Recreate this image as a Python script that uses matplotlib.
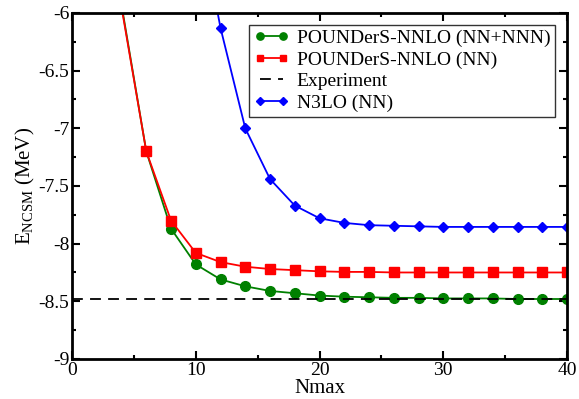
import matplotlib
matplotlib.use("Agg")
import matplotlib.pyplot as plt
from matplotlib.ticker import MultipleLocator

plt.rcParams['font.family'] = ['Liberation Serif', 'DejaVu Serif']
plt.rcParams['mathtext.fontset'] = 'custom'
plt.rcParams['mathtext.rm'] = 'Liberation Serif'

# data
nmax_nn = [4, 6, 8, 10, 12, 14, 16, 18, 20, 22, 24, 26, 28, 30, 32, 34, 36, 38, 40]
e_nnnnn = [-5.93, -7.20, -7.87, -8.18, -8.31, -8.37, -8.41, -8.43, -8.45, -8.46,
           -8.465, -8.47, -8.47, -8.475, -8.475, -8.475, -8.48, -8.48, -8.48]
e_nn = [-5.95, -7.20, -7.80, -8.08, -8.16, -8.20, -8.22, -8.23, -8.24, -8.245,
        -8.245, -8.25, -8.25, -8.25, -8.25, -8.25, -8.25, -8.25, -8.25]
nmax_n3lo = [10, 12, 14, 16, 18, 20, 22, 24, 26, 28, 30, 32, 34, 36, 38, 40]
e_n3lo = [-5.0, -6.13, -7.00, -7.44, -7.67, -7.78, -7.82, -7.84, -7.845, -7.85,
          -7.855, -7.855, -7.855, -7.855, -7.855, -7.855]
e_exp = -8.482

fig = plt.figure(figsize=(5.79, 3.99), dpi=100)
ax = fig.add_axes([0.1244, 0.1003, 0.8549, 0.8672])

ax.plot(nmax_nn, e_nnnnn, color='green', marker='o', ms=7, lw=1.3,
        label='POUNDerS-NNLO (NN+NNN)')
ax.plot(nmax_nn, e_nn, color='red', marker='s', ms=6.5, lw=1.3,
        label='POUNDerS-NNLO (NN)')
ax.axhline(e_exp, color='black', ls=(0, (6, 4)), lw=1.3, label='Experiment')
ax.plot(nmax_n3lo, e_n3lo, color='blue', marker='D', ms=5.5, lw=1.3,
        label='N3LO (NN)')

ax.set_xlim(0, 40)
ax.set_ylim(-9, -6)
ax.xaxis.set_major_locator(MultipleLocator(10))
ax.xaxis.set_minor_locator(MultipleLocator(5))
ax.yaxis.set_major_locator(MultipleLocator(0.5))
ax.yaxis.set_minor_locator(MultipleLocator(0.25))
ax.yaxis.set_major_formatter(plt.FuncFormatter(lambda v, p: f'{v:g}'))
ax.tick_params(which='both', direction='in', top=True, right=True,
               labelsize=14, width=1.5, pad=2)
ax.tick_params(which='major', length=6)
ax.tick_params(which='minor', length=3)
for s in ax.spines.values():
    s.set_linewidth(2)

ax.set_xlabel('Nmax', fontsize=15, labelpad=0.5)
ax.set_ylabel(r'E$_{\mathrm{NCSM}}$ (MeV)', fontsize=15, labelpad=1)

leg = ax.legend(loc='upper right', fontsize=14, frameon=True, fancybox=False,
                edgecolor='black', borderpad=0.25, labelspacing=0.2,
                handlelength=1.8, handletextpad=0.4, borderaxespad=0.6,
                numpoints=2, markerscale=0.75)
leg.get_frame().set_linewidth(1)

fig.savefig('out.png', dpi=100)
